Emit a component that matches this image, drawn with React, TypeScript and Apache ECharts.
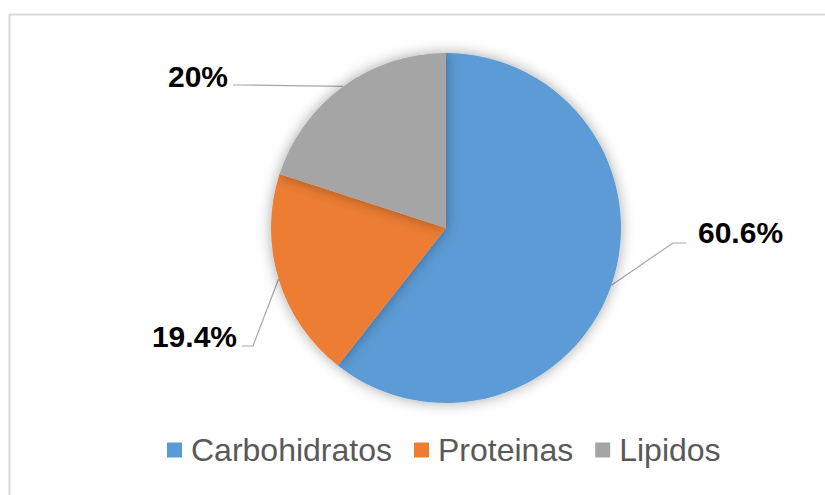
import React, { useEffect, useRef } from "react";
import * as echarts from "echarts";

const categories = ["Carbohidratos", "Proteinas", "Lipidos"];
const values = [60.6, 19.4, 20];
const labelTexts = ["60.6%", "19.4%", "20%"];
const colors = ["#5B9BD5", "#ED7D31", "#A5A5A5"];

// label placement (layout only)
const labelPlacement = [
  { x: 698, y: 232, align: "left", bend: [673, 243], end: [686, 243] },
  { x: 237, y: 336, align: "right", bend: [253, 346], end: [242, 346] },
  { x: 228, y: 76, align: "right", bend: [240, 85], end: [233, 85] },
];

export default function App() {
  const ref = useRef<HTMLDivElement>(null);
  useEffect(() => {
    if (!ref.current) return;
    const chart = echarts.init(ref.current, null, { renderer: "svg" });
    chart.setOption({
      animation: false,
      backgroundColor: "#ffffff",
      color: colors,
      graphic: [
        {
          type: "rect",
          left: 7,
          top: 12,
          shape: { x: 0, y: 0, width: 900, height: 600 },
          style: { fill: "none", stroke: "#d9d9d9", lineWidth: 2 },
          silent: true,
          z: -1,
        },
      ],
      legend: {
        data: categories,
        left: 167,
        top: 434,
        padding: 0,
        icon: "rect",
        itemWidth: 15,
        itemHeight: 15,
        itemGap: 22,
        textStyle: {
          fontSize: 32,
          color: "#595959",
          fontFamily: "'Liberation Sans', Arial, sans-serif",
          padding: [0, 0, 0, 4],
        },
      },
      series: [
        {
          type: "pie",
          center: [446, 228],
          radius: 175,
          startAngle: 90,
          clockwise: true,
          data: categories.map((name, i) => ({ name, value: values[i] })),
          itemStyle: {
            shadowBlur: 14,
            shadowColor: "rgba(0,0,0,0.35)",
            borderWidth: 0,
          },
          label: {
            show: true,
            position: "outside",
            formatter: (p: any) => labelTexts[p.dataIndex],
            fontSize: 30,
            fontWeight: "bold",
            color: "#000000",
            fontFamily: "'Liberation Sans', Arial, sans-serif",
          },
          labelLine: {
            show: true,
            lineStyle: { color: "#a6a6a6", width: 1.2 },
          },
          labelLayout: (params: any) => {
            const lp = labelPlacement[params.dataIndex];
            const start = params.labelLinePoints ? params.labelLinePoints[0] : lp.bend;
            return {
              x: lp.x,
              y: lp.y,
              align: lp.align,
              verticalAlign: "middle",
              labelLinePoints: [start, lp.bend, lp.end],
            };
          },
          emphasis: { disabled: true },
        },
      ],
    });
    return () => chart.dispose();
  }, []);
  return (
    <div
      ref={ref}
      style={{ position: "fixed", left: 0, top: 0, width: 825, height: 495 }}
    />
  );
}
